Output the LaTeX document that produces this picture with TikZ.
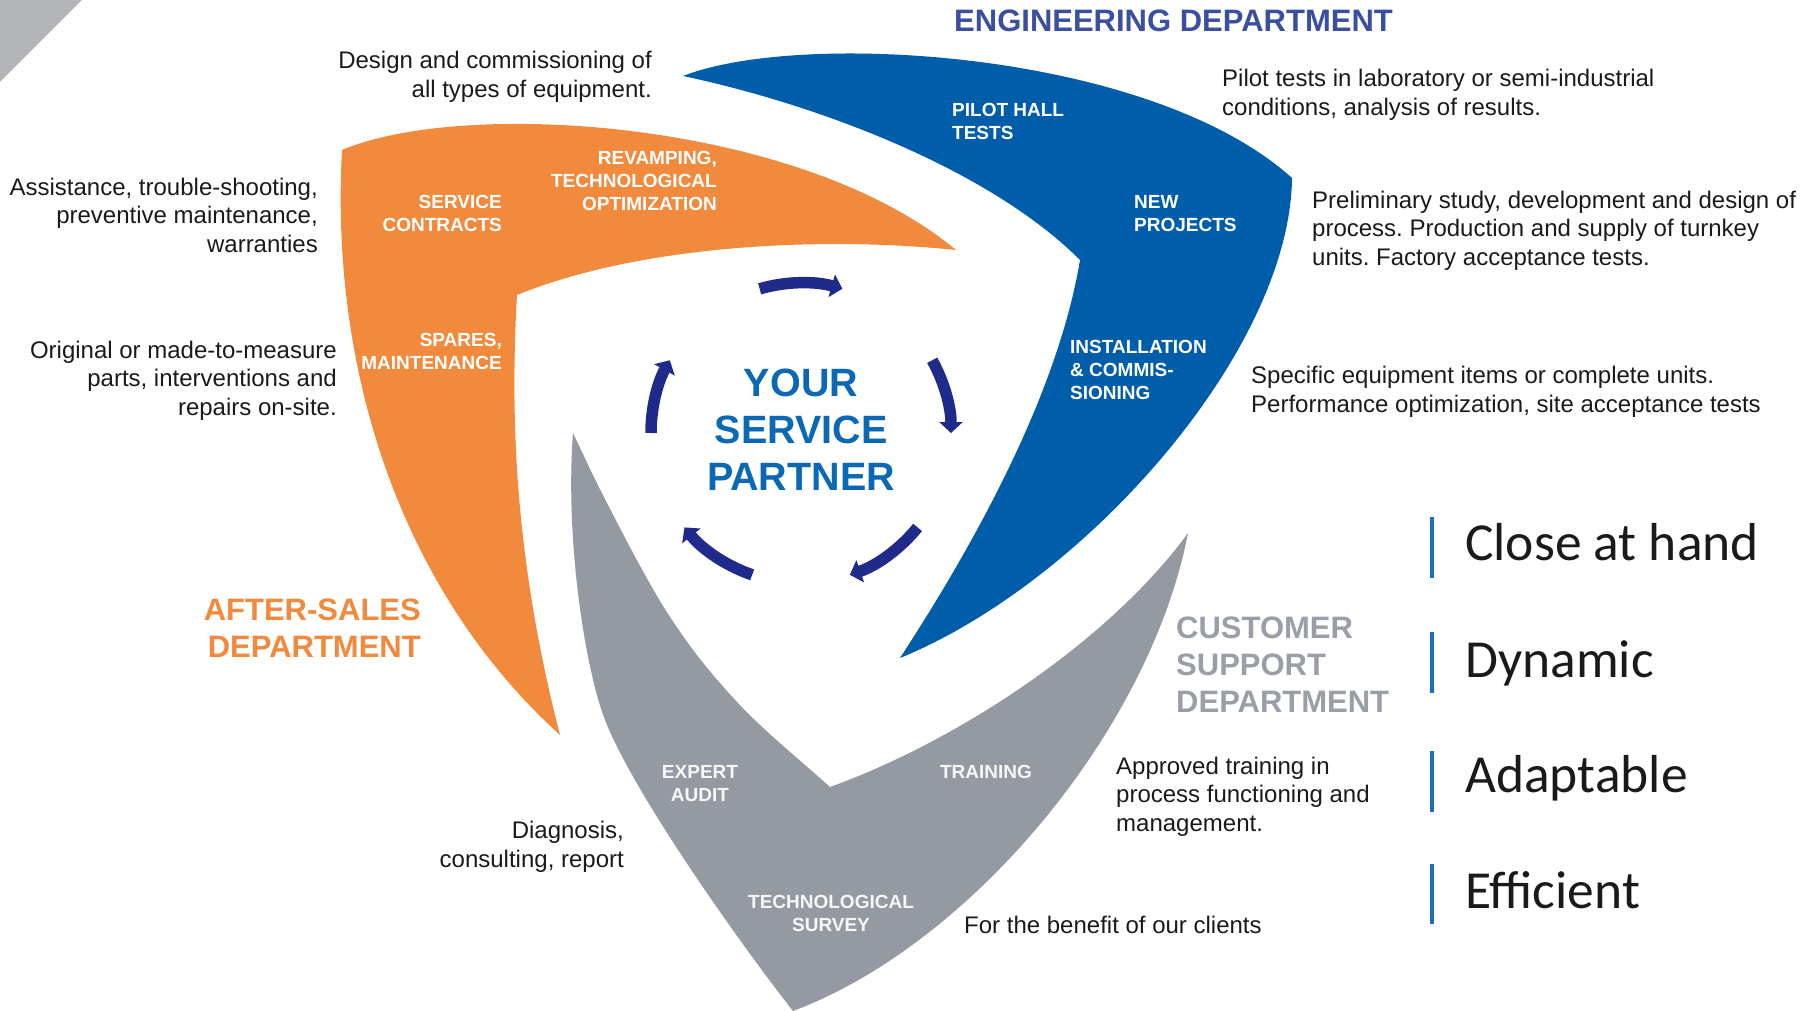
\documentclass[tikz,border=0pt]{standalone}
\usepackage{fontspec}
\setmainfont{Liberation Sans}
\newfontfamily\keyfont{Carlito}
\usetikzlibrary{arrows.meta}
\definecolor{orng}{HTML}{F28A3D}
\definecolor{blu}{HTML}{005DAA}
\definecolor{gry}{HTML}{959AA2}
\definecolor{navy}{HTML}{202A8A}
\definecolor{ctrblue}{HTML}{0A68B4}
\definecolor{engblue}{HTML}{3A4FA0}
\definecolor{deptgray}{HTML}{9A9FA7}
\definecolor{barblue}{HTML}{1F6DB8}
\definecolor{cornergray}{HTML}{B3B4B7}
\definecolor{txt}{HTML}{1A1A1A}
\frenchspacing
\begin{document}
\begin{tikzpicture}[x=1pt,y=-1pt,
  desc/.style={font=\fontsize{24}{28.5}\selectfont, text=txt, inner sep=0pt},
  lbl/.style={font=\fontsize{19}{23}\selectfont\bfseries, text=white, inner sep=0pt},
  glbl/.style={lbl, text=white!94!gray},
  dept/.style={font=\fontsize{31}{37}\selectfont\bfseries, inner sep=0pt},
  keyword/.style={font=\keyfont\fontsize{53.5}{60}\selectfont, text=txt, inner sep=0pt, anchor=base west},
  keybar/.style={barblue, line width=4pt},
  cyclearrow/.style={navy, line width=11.5pt, -{Triangle[length=11pt,width=23pt]}}]
\useasboundingbox (0,0) rectangle (1818,1011);

% corner triangle
\fill[cornergray] (0,0) -- (82,0) -- (0,82) -- cycle;

% orange (after-sales) band
\fill[orng] (342,150) .. controls (465,98) and (800,120) .. (956,250)
  .. controls (820,236) and (640,245) .. (517,295)
  .. controls (510,420) and (515,560) .. (560,735)
  .. controls (400,590) and (330,370) .. (342,150) -- cycle;

% blue (engineering) band
\fill[blu] (683,76) .. controls (800,30) and (1150,50) .. (1292,178)
  .. controls (1290,350) and (1086,582) .. (900,658)
  .. controls (990,520) and (1060,380) .. (1080,260)
  .. controls (990,170) and (820,105) .. (683,76) -- cycle;

% gray (customer support) band
\fill[gry] (573,433) .. controls (565,540) and (585,668) .. (605,720)
  .. controls (635,797) and (748,954) .. (793,1011)
  .. controls (970,945) and (1150,730) .. (1188,533)
  .. controls (1110,640) and (960,740) .. (830,787)
  .. controls (799,759) and (764,731) .. (738,703)
  .. controls (712,675) and (694,653) .. (672,620)
  .. controls (650,587) and (623,534) .. (607,503)
  .. controls (591,472) and (584,456) .. (573,433) -- cycle;

% cycle arrows
\coordinate (c) at (801,433);
\draw[cyclearrow] ([shift={(-106:150)}]c) arc[start angle=-106, end angle=-74, radius=150];
\draw[cyclearrow] ([shift={(-29:150)}]c) arc[start angle=-29, end angle=0, radius=150];
\draw[cyclearrow] ([shift={(39:150)}]c) arc[start angle=39, end angle=71, radius=150];
\draw[cyclearrow] ([shift={(109:150)}]c) arc[start angle=109, end angle=141, radius=150];
\draw[cyclearrow] ([shift={(180:150)}]c) arc[start angle=180, end angle=209, radius=150];

% centre text
\node[font=\fontsize{39.5}{47}\selectfont\bfseries, text=ctrblue, align=center, inner sep=0pt] (ysp) at (801,430) {YOUR\\SERVICE\\PARTNER};

% department titles
\node[dept, text=engblue, anchor=west] (eng) at (954,21) {ENGINEERING DEPARTMENT};
\node[dept, text=orng, anchor=east, align=right] (aft) at (421,628.5) {AFTER-SALES\\DEPARTMENT};
\node[dept, text=deptgray, anchor=west, align=left] (cus) at (1176,665) {CUSTOMER\\SUPPORT\\DEPARTMENT};

% labels in bands
\node[lbl, anchor=east, align=right] (svc) at (502,213.5) {SERVICE\\CONTRACTS};
\node[lbl, anchor=east, align=right] (rev) at (717,181) {REVAMPING,\\TECHNOLOGICAL\\OPTIMIZATION};
\node[lbl, anchor=east, align=right] (spa) at (502,351.5) {SPARES,\\MAINTENANCE};
\node[lbl, anchor=west, align=left] (pil) at (952,121.5) {PILOT HALL\\TESTS};
\node[lbl, anchor=west, align=left] (npr) at (1134,214) {NEW\\PROJECTS};
\node[lbl, anchor=west, align=left] (ins) at (1070,370) {INSTALLATION\\\& COMMIS-\\SIONING};
\node[glbl, align=center] (exp) at (700,784) {EXPERT\\AUDIT};
\node[glbl, align=center] (tra) at (986,772) {TRAINING};
\node[glbl, align=center] (tec) at (831,913) {TECHNOLOGICAL\\SURVEY};

% descriptions
\node[desc, anchor=east, align=right] (d1) at (652,77) {Design and commissioning of\\all types of equipment.};
\node[desc, anchor=east, align=right] (d2) at (318,215) {Assistance, trouble-shooting,\\preventive maintenance,\\warranties};
\node[desc, anchor=east, align=right] (d3) at (337,380.5) {Original or made-to-measure\\parts, interventions and\\repairs on-site.};
\node[desc, anchor=east, align=right] (d4) at (624,847) {Diagnosis,\\consulting, report};
\node[desc, anchor=west, align=left] (d5) at (1222,95) {Pilot tests in laboratory or semi-industrial\\conditions, analysis of results.};
\node[desc, anchor=west, align=left] (d6) at (1312,230.5) {Preliminary study, development and design of\\process. Production and supply of turnkey\\units. Factory acceptance tests.};
\node[desc, anchor=west, align=left] (d7) at (1251,392) {Specific equipment items or complete units.\\Performance optimization, site acceptance tests};
\node[desc, anchor=west, align=left] (d8) at (1116,796.5) {Approved training in\\process functioning and\\management.};
\node[desc, anchor=base west] (d9) at (964,933) {For the benefit of our clients};

% keywords with bars
\coordinate (b1t) at (1432,517); \coordinate (b1b) at (1432,578);
\coordinate (b2t) at (1432,632); \coordinate (b2b) at (1432,693);
\coordinate (b3t) at (1432,751); \coordinate (b3b) at (1432,812);
\coordinate (b4t) at (1432,864); \coordinate (b4b) at (1432,924);
\draw[keybar] (b1t) -- (b1b);
\draw[keybar] (b2t) -- (b2b);
\draw[keybar] (b3t) -- (b3b);
\draw[keybar] (b4t) -- (b4b);
\node[keyword] (k1) at (1465,560) {Close at hand};
\node[keyword] (k2) at (1465,677) {Dynamic};
\node[keyword] (k3) at (1465,792) {Adaptable};
\node[keyword] (k4) at (1465,908) {Efficient};
\end{tikzpicture}
\end{document}
